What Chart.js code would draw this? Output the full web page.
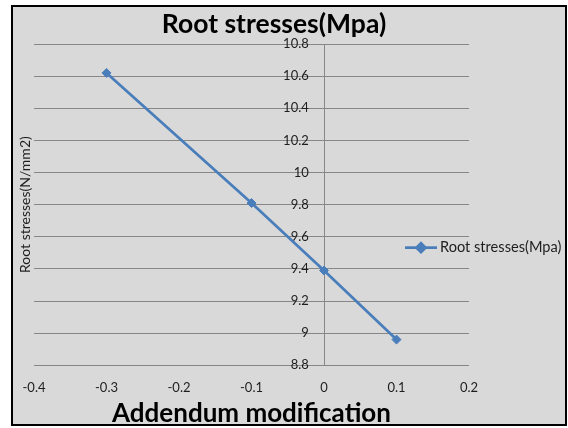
<!DOCTYPE html>
<html><head><meta charset="utf-8">
<script src="https://cdn.jsdelivr.net/npm/chart.js@4"></script>
<style>
html,body{margin:0;padding:0;background:#fff;width:568px;height:428px;overflow:hidden;}
#frame{position:absolute;left:11px;top:5px;width:552px;height:417px;border:2px solid #000;background:#d9d9d9;}
#wrap{position:absolute;left:0;top:0;width:568px;height:428px;}
</style></head><body>
<div id="frame"></div>
<div id="wrap"><canvas id="c" width="568" height="428"></canvas></div>
<script>
const chartTitle = 'Root stresses(Mpa)';
const seriesName = 'Root stresses(Mpa)';
const xAxisTitle = 'Addendum modification';
const yAxisTitle = 'Root stresses(N/mm2)';
const addendum = [-0.3, -0.1, 0.0, 0.1];
const rootStress = [10.62, 9.81, 9.39, 8.96];
const xTicks = [-0.4, -0.3, -0.2, -0.1, 0, 0.1, 0.2];
const yTicks = [8.8, 9, 9.2, 9.4, 9.6, 9.8, 10, 10.2, 10.4, 10.6, 10.8];

const SERIES_COLOR = '#4a7ebb';
const GRID_COLOR = '#878787';
const TEXT_COLOR = '#1e1e1e';
const FONT = 'Lato';
const Y_LABEL_GAP = 0.021; // gap (in x units) between the y labels and the vertical axis at x = 0

const setTicks = (arr) => (scale) => { scale.ticks = arr.map(v => ({ value: v })); };

const decor = {
  id: 'decor',
  afterDraw(chart) {
    const ctx = chart.ctx;
    const area = chart.chartArea;
    ctx.save();
    // title
    ctx.fillStyle = '#000';
    ctx.font = 'bold 26.5px ' + FONT;
    ctx.textAlign = 'center';
    ctx.textBaseline = 'middle';
    ctx.fillText(chartTitle, 274, 24);
    // legend
    const ly = (area.top + area.bottom) / 2 + 43;
    const lx0 = area.right - 64;
    ctx.strokeStyle = SERIES_COLOR;
    ctx.lineWidth = 2.75;
    ctx.beginPath();
    ctx.moveTo(lx0, ly);
    ctx.lineTo(lx0 + 32, ly);
    ctx.stroke();
    ctx.fillStyle = SERIES_COLOR;
    Chart.helpers.drawPoint(ctx, { pointStyle: 'rectRot', radius: 4.5, borderWidth: 1 }, lx0 + 16, ly);
    ctx.fillStyle = TEXT_COLOR;
    ctx.font = '14.6px ' + FONT;
    ctx.textAlign = 'left';
    ctx.fillText(seriesName, lx0 + 35, ly);
    ctx.restore();
  }
};

new Chart(document.getElementById('c'), {
  type: 'scatter',
  data: {
    datasets: [{
      label: seriesName,
      data: addendum.map((x, i) => ({ x: x, y: rootStress[i] })),
      showLine: true,
      borderColor: SERIES_COLOR,
      backgroundColor: SERIES_COLOR,
      borderWidth: 2.75,
      pointStyle: 'rectRot',
      pointRadius: 4.5,
      pointBackgroundColor: SERIES_COLOR,
      pointBorderColor: SERIES_COLOR,
      pointBorderWidth: 1,
      yAxisID: 'y',
      xAxisID: 'x'
    }]
  },
  options: {
    responsive: false,
    animation: false,
    devicePixelRatio: 1,
    layout: { padding: { left: 12, right: 99, top: 44, bottom: 0 } },
    plugins: {
      legend: { display: false },
      title: { display: false },
      tooltip: { enabled: false }
    },
    scales: {
      x: {
        type: 'linear', position: 'bottom', min: -0.4, max: 0.2,
        afterBuildTicks: setTicks(xTicks),
        grid: { display: true, drawTicks: false, lineWidth: 1, color: c => (c.tick && c.tick.value === 0) ? GRID_COLOR : 'rgba(0,0,0,0)' },
        border: { display: false },
        ticks: { padding: 16.5, color: TEXT_COLOR, font: { family: FONT, size: 13, lineHeight: 1.0 }, callback: v => String(v) },
        title: { display: true, text: xAxisTitle, color: '#000', font: { family: FONT, size: 26, weight: 'bold', lineHeight: 0.3 }, padding: { top: -2, bottom: 10.9 } }
      },
      yl: {
        type: 'linear', position: 'left', min: 8.8, max: 10.8,
        afterBuildTicks: setTicks(yTicks),
        grid: { color: GRID_COLOR, lineWidth: 1, drawTicks: false },
        border: { display: false },
        ticks: { display: false },
        title: { display: true, text: yAxisTitle, color: TEXT_COLOR, font: { family: FONT, size: 14, lineHeight: 1.2 }, padding: { top: 4.6, bottom: 0.6 } }
      },
      y: {
        type: 'linear', position: { x: -Y_LABEL_GAP }, min: 8.8, max: 10.8,
        afterBuildTicks: setTicks(yTicks),
        grid: { display: false, drawTicks: false },
        border: { display: false },
        ticks: { padding: 0, color: TEXT_COLOR, font: { family: FONT, size: 13 }, callback: v => String(v) }
      }
    }
  },
  plugins: [decor]
});
</script>
</body></html>
